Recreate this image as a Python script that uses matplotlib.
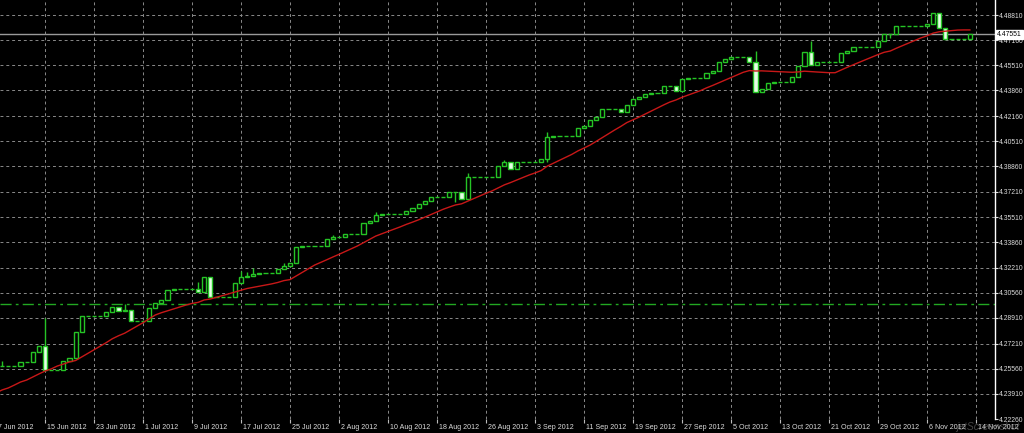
import numpy as np
import pandas as pd
import matplotlib
matplotlib.use('Agg')
import matplotlib.pyplot as plt

# daily bars from 7 Jun 2012 (weekends show as flat bars), bar 0 = 7 Jun
closes = [
    4.2574, 4.2574, 4.2574, 4.2574, 4.2601, 4.2601, 4.2666,
    4.2706, 4.2548, 4.2548, 4.2548, 4.2607, 4.2627, 4.2798,
    4.2903, 4.2903, 4.2903, 4.2903, 4.2929, 4.2962, 4.2936,
    4.2942, 4.2870, 4.2870, 4.2870, 4.2956, 4.2988, 4.3008,
    4.3074, 4.3080, 4.3080, 4.3080, 4.3080, 4.3061, 4.3159,
    4.3028, 4.3028, 4.3028, 4.3028, 4.3120, 4.3159, 4.3166,
    4.3179, 4.3186, 4.3186, 4.3186, 4.3212, 4.3232, 4.3251,
    4.3356, 4.3363, 4.3363, 4.3363, 4.3363, 4.3409, 4.3422,
    4.3422, 4.3442, 4.3442, 4.3442, 4.3514, 4.3527, 4.3567,
    4.3573, 4.3573, 4.3573, 4.3573, 4.3593, 4.3613, 4.3639,
    4.3659, 4.3685, 4.3685, 4.3685, 4.3718, 4.3718, 4.3672,
    4.3816, 4.3816, 4.3816, 4.3816, 4.3816, 4.3889, 4.3915,
    4.3869, 4.3915, 4.3915, 4.3915, 4.3915, 4.3935, 4.4079,
    4.4086, 4.4086, 4.4086, 4.4086, 4.4138, 4.4152, 4.4191,
    4.4211, 4.4263, 4.4263, 4.4263, 4.4244, 4.4290, 4.4329,
    4.4342, 4.4362, 4.4368, 4.4368, 4.4414, 4.4414, 4.4382,
    4.4460, 4.4467, 4.4467, 4.4467, 4.4500, 4.4513, 4.4572,
    4.4592, 4.4605, 4.4605, 4.4605, 4.4572, 4.4375, 4.4395,
    4.4434, 4.4441, 4.4441, 4.4441, 4.4474, 4.4546, 4.4638,
    4.4552, 4.4572, 4.4572, 4.4572, 4.4572, 4.4631, 4.4644,
    4.4671, 4.4671, 4.4671, 4.4671, 4.4710, 4.4756, 4.4756,
    4.4809, 4.4809, 4.4809, 4.4809, 4.4809, 4.4822, 4.4894,
    4.4796, 4.4723, 4.4723, 4.4723, 4.4723, 4.47551,
]
first_open = 4.2574

# wicks that stick out of the bodies
high_days = [1, 8, 21, 33, 40, 41, 42, 47, 55, 62, 77, 83, 90, 124, 133]
high_vals = [4.2607, 4.2890, 4.2982, 4.3126, 4.3199, 4.3192, 4.3218, 4.3251,
             4.3435, 4.3586, 4.3843, 4.3928, 4.4112, 4.4644, 4.4710]
low_days = [75, 90, 146]
low_vals = [4.3652, 4.3915, 4.4730]

# moving average (red), first bars
ma_period = 14
ma_head = [4.2397, 4.2417, 4.2430, 4.2449, 4.2469, 4.2482, 4.2502,
           4.2522, 4.2541, 4.2555, 4.2574, 4.2587, 4.2601]

hline_level = 4.2983
last_price = 4.47551

price_levels = [4.48810, 4.47160, 4.45510, 4.43860, 4.42160, 4.40510,
                4.38860, 4.37210, 4.35510, 4.33860, 4.32210, 4.30560,
                4.28910, 4.27210, 4.25560, 4.23910, 4.22260]
date_labels = ['7 Jun 2012', '15 Jun 2012', '23 Jun 2012', '1 Jul 2012',
               '9 Jul 2012', '17 Jul 2012', '25 Jul 2012', '2 Aug 2012',
               '10 Aug 2012', '18 Aug 2012', '26 Aug 2012', '3 Sep 2012',
               '11 Sep 2012', '19 Sep 2012', '27 Sep 2012', '5 Oct 2012',
               '13 Oct 2012', '21 Oct 2012', '29 Oct 2012', '6 Nov 2012',
               '14 Nov 2012']
label_step = 8

plt.rcParams['font.family'] = ['Liberation Sans', 'DejaVu Sans']

green = '#25c425'
txt = '#dcdcdc'

fig = plt.figure(figsize=(10.24, 4.33), dpi=100)
fig.patch.set_facecolor('black')
ax = fig.add_axes([0, 14 / 433, 995 / 1024, 419 / 433])
ax.set_facecolor('black')

c = np.array(closes)
o = np.r_[first_open, c[:-1]]
days = np.arange(len(c))
hi = np.maximum(o, c)
lo = np.minimum(o, c)
hi[high_days] = high_vals
lo[low_days] = low_vals

ax.vlines(days, lo, hi, color=green, lw=1, zorder=2)
up = c > o
dn = c < o
fl = c == o
ax.bar(days[up], (c - o)[up], bottom=o[up], width=0.68, color='black',
       edgecolor=green, lw=1, zorder=3)
ax.bar(days[dn], (o - c)[dn], bottom=c[dn], width=0.68, color='#e6ffe6',
       edgecolor=green, lw=1, zorder=3)
ax.hlines(c[fl], days[fl] - 0.33, days[fl] + 0.33, color=green, lw=1, zorder=3)

ma = pd.Series(c).rolling(ma_period).mean().values
ma[:len(ma_head)] = ma_head
ax.plot(days, ma, color='#c81818', lw=1, zorder=4)

ax.axhline(hline_level, color='#22a822', lw=1, ls=(0, (8, 3, 2, 3)), zorder=2)
ax.axhline(last_price, color='#9a9a9a', lw=1, zorder=1)

ax.set_xlim(0.653, 163.1)
ax.set_ylim(4.2226, 4.49796)

tick_days = np.arange(len(date_labels)) * label_step
ax.set_xticks(tick_days[1:])
ax.set_yticks(price_levels)
ax.yaxis.tick_right()
ax.set_yticklabels(['%.5f' % v for v in price_levels])
ax.tick_params(axis='y', colors=txt, labelsize=4.9, length=2.5, pad=0.4,
               width=0.8)
ax.tick_params(axis='x', colors='#bbbbbb', length=3, width=0.8,
               labelbottom=False)
ax.grid(True, color='#8a8a8a', lw=0.7, ls=(0, (3, 3)), zorder=0)

for d, lab in zip(tick_days, date_labels):
    ax.annotate(lab, xy=(d, 0), xycoords=('data', 'axes fraction'),
                xytext=(1.5, -3.5), textcoords='offset points',
                ha='left', va='top', fontsize=5.1, color=txt,
                annotation_clip=False)

for side in ['top', 'left', 'bottom']:
    ax.spines[side].set_visible(False)
ax.spines['right'].set_color('white')
ax.spines['right'].set_linewidth(1)

ax.text(1.002, last_price, '%.5f' % last_price,
        transform=ax.get_yaxis_transform(), ha='left', va='center',
        fontsize=4.9, color='black', zorder=10, clip_on=False,
        bbox=dict(boxstyle='square,pad=0.15', fc='white', ec='white'))

fig.text(0.996, 0.002, 'jetScreenshot', ha='right', va='bottom',
         fontsize=7.5, style='italic', color='#9a9a9a', alpha=0.45)

fig.savefig('out.png', dpi=100, facecolor='black')
